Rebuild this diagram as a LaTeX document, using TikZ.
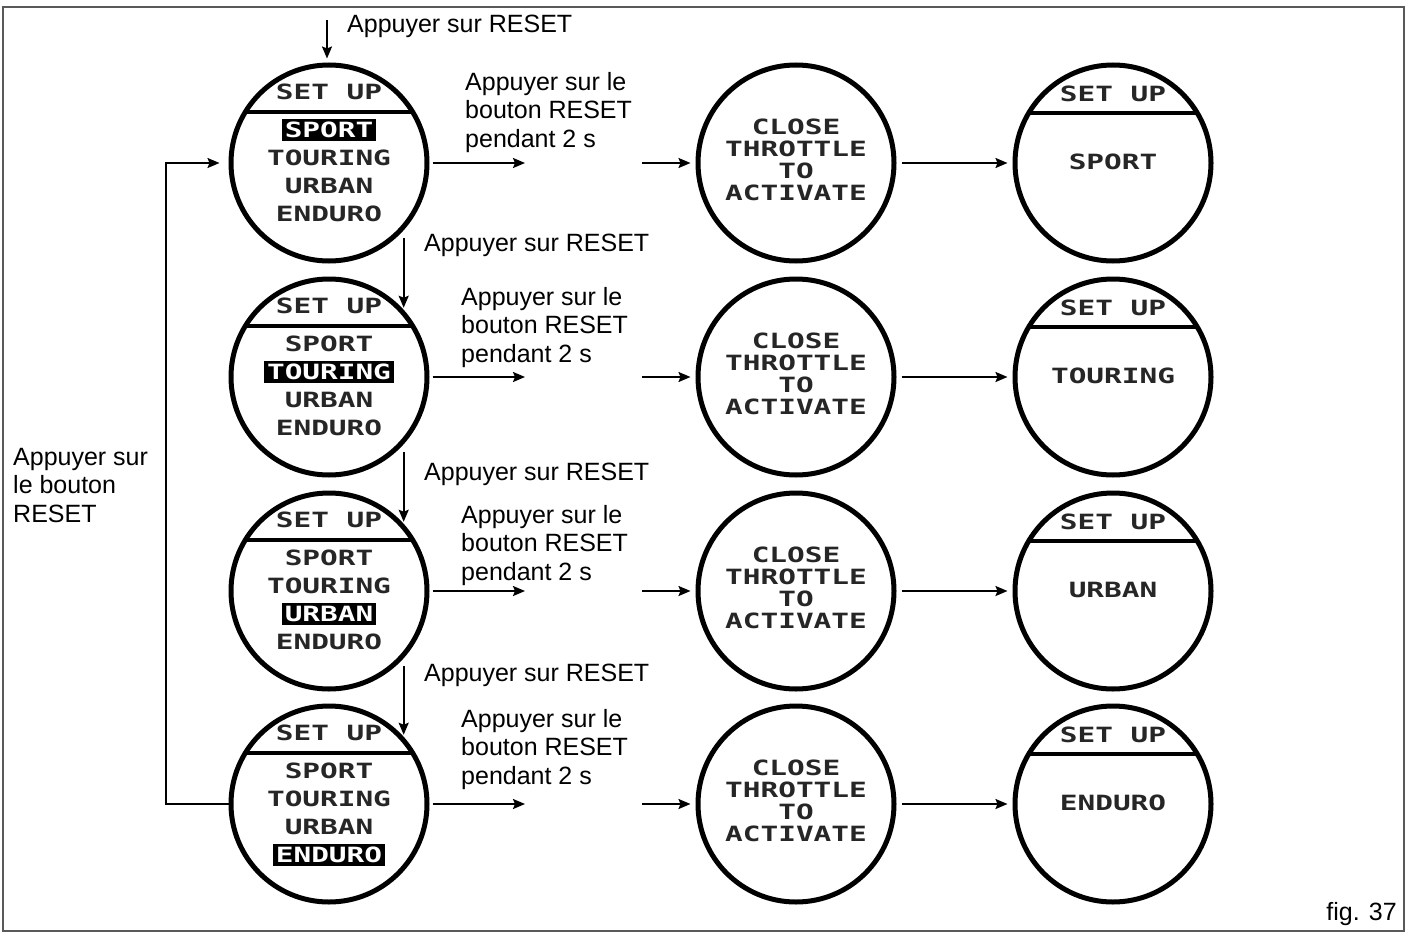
\documentclass[tikz,border=0pt]{standalone}
\usepackage{fontspec}
\setmainfont{Liberation Sans}
\newfontfamily\lcdfont[FakeStretch=1.4]{DejaVu Sans Mono Bold}
\usetikzlibrary{arrows.meta,calc}
\begin{document}
\begin{tikzpicture}[x=1pt,y=-1pt,
  disc/.style={circle,draw,line width=5pt,minimum size=196pt,inner sep=0pt},
  lcd/.style={font=\fontsize{21}{22}\lcdfont,inner sep=0pt,text=black!85},
  hl/.style={font=\fontsize{21}{22}\lcdfont,fill=black,text=white,inner xsep=3pt,inner ysep=3pt},
  pick/.code 2 args={\ifnum#1=#2\relax\pgfkeysalso{/tikz/hl}\else\pgfkeysalso{/tikz/lcd}\fi},
  lab/.style={font=\fontsize{25}{28.5}\selectfont,align=left,anchor=north west,inner sep=0pt},
  arr/.style={-{Stealth[length=12pt,width=10pt,inset=2pt]},line width=1.9pt},
  chord/.style={line width=4pt}
]
\useasboundingbox (0,0) rectangle (1406,934);
\draw[line width=2pt,color=black!65] (3,7) rectangle (1404,931);

\foreach \r/\y/\w in {1/163/SPORT,2/377/TOURING,3/591/URBAN,4/804/ENDURO} {
  % column 1: menu
  \node[disc] (a\r) at (329,\y) {};
  \draw[chord] ($(a\r)+(-84,-51)$) -- ($(a\r)+(84,-51)$);
  \node[lcd] (a\r h) at ($(a\r)+(0,-71)$) {SET UP};
  \foreach \i/\m/\o in {1/SPORT/-33,2/TOURING/-5,3/URBAN/23,4/ENDURO/51}
    \node[pick={\r}{\i}] (a\r m\i) at ($(a\r)+(0,\o)$) {\m};
  % column 2: close throttle
  \node[disc] (b\r) at (796,\y) {};
  \node[lcd,align=center] (b\r t) at ($(b\r)+(0,-3)$) {CLOSE\\THROTTLE\\TO\\ACTIVATE};
  % column 3: result
  \node[disc] (c\r) at (1113,\y) {};
  \draw[chord] ($(c\r)+(-84,-50)$) -- ($(c\r)+(84,-50)$);
  \node[lcd] (c\r h) at ($(c\r)+(0,-69)$) {SET UP};
  \node[lcd] (c\r m) at ($(c\r)+(0,-1)$) {\w};
  % row arrows
  \coordinate (p\r) at (525,\y);
  \coordinate (q\r) at (642,\y);
  \draw[arr,shorten <=3pt] (a\r) -- (p\r);
  \draw[arr,shorten >=5pt] (q\r) -- (b\r);
  \draw[arr,shorten <=5pt,shorten >=5pt] (b\r) -- (c\r);
}

% down arrows
\draw[arr,shorten <=8pt,shorten >=2pt] (a1.-42) -- (a2.42);
\draw[arr,shorten <=8pt,shorten >=2pt] (a2.-42) -- (a3.42);
\draw[arr,shorten <=8pt,shorten >=2pt] (a3.-42) -- (a4.42);

% top arrow
\coordinate (t0) at (327,20);
\draw[arr,shorten >=4pt] (t0) -- (t0 |- a1.north);

% loop back
\coordinate (lb) at (166,804);
\coordinate (lt) at (166,163);
\draw[arr,shorten >=9pt] (a4.west) -- (lb) -- (lt) -- (a1.west);

% labels
\node[lab] (l0) at (347,15) {Appuyer sur RESET};
\node[lab] (l1) at (465,72) {Appuyer sur le\\bouton RESET\\pendant 2 s};
\node[lab] (r1) at (424,234) {Appuyer sur RESET};
\node[lab] (l2) at (461,287) {Appuyer sur le\\bouton RESET\\pendant 2 s};
\node[lab] (r2) at (424,463) {Appuyer sur RESET};
\node[lab] (l3) at (461,505) {Appuyer sur le\\bouton RESET\\pendant 2 s};
\node[lab] (r3) at (424,664) {Appuyer sur RESET};
\node[lab] (l4) at (461,709) {Appuyer sur le\\bouton RESET\\pendant 2 s};
\node[lab] (side) at (13,448) {Appuyer sur\\le bouton\\RESET};
\node[font=\fontsize{25}{28}\selectfont,anchor=base east,inner sep=0pt] (fig) at (1397,920) {fig. 37};
\end{tikzpicture}
\end{document}
